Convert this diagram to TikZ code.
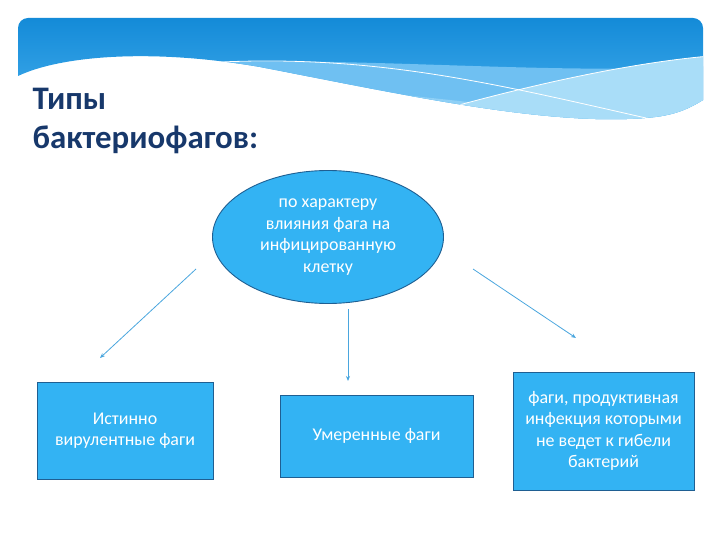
\documentclass[tikz,border=0pt]{standalone}
\usepackage{fontspec}
\setmainfont{Carlito}
\usetikzlibrary{shapes.geometric,arrows.meta}
\definecolor{boxfill}{HTML}{33B3F3}
\definecolor{boxedge}{HTML}{1F5F92}
\definecolor{arrowc}{HTML}{4AA6DE}
\definecolor{titlec}{HTML}{17386B}
\definecolor{bantop}{HTML}{1088D6}
\definecolor{banbot}{HTML}{4AB2F0}
\definecolor{bandA}{HTML}{6FC0F2}
\definecolor{bandC}{HTML}{8FD0F6}
\definecolor{bandB}{HTML}{A9DDF8}
\tikzset{
  shapebox/.style={draw=boxedge, line width=0.9bp, fill=boxfill, text=white, align=center, font=\fontsize{18}{21.5}\selectfont, inner sep=0pt},
  conn/.style={draw=arrowc, line width=0.8bp, -{Stealth[length=5bp,width=4bp]}},
}
\begin{document}
\begin{tikzpicture}[x=1bp,y=-1bp]
\useasboundingbox (0,0) rectangle (720,540);
% banner
\begin{scope}
  \clip (18,76) -- (18,28) arc[start angle=180, end angle=90, radius=10bp] -- (693,18) arc[start angle=90, end angle=0, radius=10bp] -- (703,100)
     .. controls (690,108) and (675,116) .. (645,118) .. controls (545,126) and (400,94) .. (260,67) .. controls (150,48) and (60,56) .. (18,76) -- cycle;
  \shade[top color=bantop, bottom color=banbot] (10,10) rectangle (710,130);
  \fill[bandA] (221,62) .. controls (380,58) and (560,75) .. (710,66) -- (710,140) -- (221,140) -- cycle;
  \fill[bandC] (300,85) .. controls (420,95) and (520,110) .. (645,118) -- (645,140) -- (300,140) -- cycle;
  \fill[bandB] (448,108) .. controls (550,80) and (640,62) .. (710,56) -- (710,140) -- (448,140) -- cycle;
  \draw[white, line width=0.8bp] (221,62) .. controls (380,55) and (500,85) .. (646,118);
  \draw[white, line width=0.8bp] (448,108) .. controls (550,80) and (640,62) .. (710,56);
\end{scope}
% title
\node[anchor=west, text=titlec, font=\fontsize{33}{40}\selectfont\bfseries, align=left] (title) at (29,121) {Типы\\бактериофагов:};
% ellipse
\node[shapebox, ellipse, minimum width=231bp, minimum height=133bp] (ell) at (328,237) {по характеру\\влияния фага на\\инфицированную\\клетку};
% boxes
\node[shapebox, minimum width=176bp, minimum height=97bp] (b1) at (125,431) {Истинно\\вирулентные фаги};
\node[shapebox, minimum width=193bp, minimum height=82bp] (b2) at (376.5,436) {Умеренные фаги};
\node[shapebox, minimum width=181bp, minimum height=118bp] (b3) at (603.5,431) {фаги, продуктивная\\инфекция которыми\\не ведет к гибели\\бактерий};
% arrows
\coordinate (s1) at (196,269); \coordinate (e1) at (100,358);
\coordinate (s2) at (348,309); \coordinate (e2) at (348,381);
\coordinate (s3) at (473,269); \coordinate (e3) at (576,338);
\draw[conn] (s1) -- (e1);
\draw[conn] (s2) -- (e2);
\draw[conn] (s3) -- (e3);
\end{tikzpicture}
\end{document}
